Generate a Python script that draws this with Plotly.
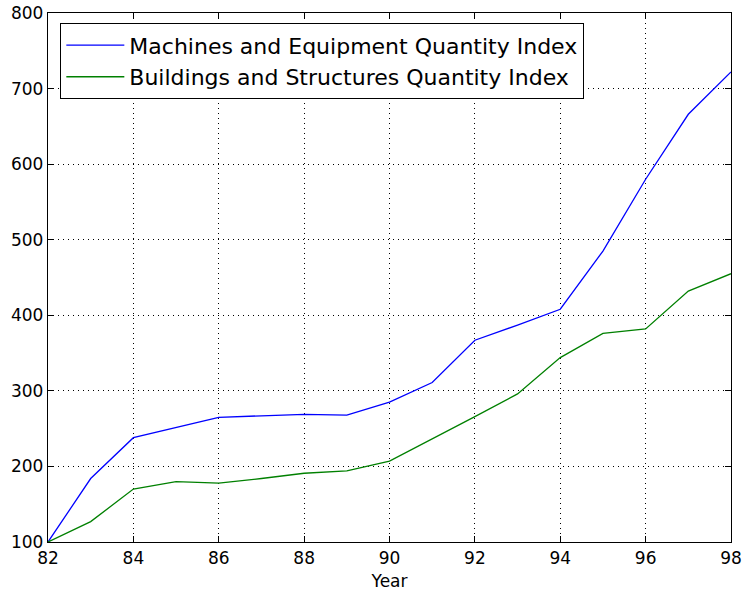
import plotly.graph_objects as go

years = [82, 83, 84, 85, 86, 87, 88, 89, 90, 91, 92, 93, 94, 95, 96, 97, 98]
machines = [100, 184, 238, 251, 265, 267, 269, 268, 285, 311, 367, 387, 408, 485, 580, 666, 722]
buildings = [100, 127, 170, 180, 178, 184, 191, 194, 207, 236, 266, 296, 344, 376, 382, 432, 455]
x_ticks = [82, 84, 86, 88, 90, 92, 94, 96, 98]
y_ticks = [100, 200, 300, 400, 500, 600, 700, 800]

fig = go.Figure()
fig.add_trace(go.Scatter(x=years, y=machines, mode="lines",
                         name="Machines and Equipment Quantity Index",
                         line=dict(color="#0000ff", width=1.3)))
fig.add_trace(go.Scatter(x=years, y=buildings, mode="lines",
                         name="Buildings and Structures Quantity Index",
                         line=dict(color="#008000", width=1.3)))

axis_common = dict(showline=True, linecolor="black", linewidth=1.3, mirror="allticks",
                   ticks="inside", ticklen=6, tickcolor="black", automargin=False,
                   showgrid=True, gridcolor="black", griddash="1px,4px", gridwidth=1,
                   zeroline=False, tickfont=dict(family="DejaVu Sans", size=17, color="black"))

fig.update_xaxes(range=[82, 98], tickvals=x_ticks, ticktext=[str(v) for v in x_ticks],
                 title=dict(text="Year", font=dict(family="DejaVu Sans", size=17, color="black"), standoff=8),
                 **axis_common)
fig.update_yaxes(range=[100, 800], tickvals=y_ticks, ticktext=[str(v) for v in y_ticks],
                 ticklabelstandoff=0, **axis_common)

fig.update_layout(
    width=743, height=592,
    margin=dict(l=48, r=12, t=13, b=50),
    plot_bgcolor="white", paper_bgcolor="white",
    font=dict(family="DejaVu Sans", size=17, color="black"),
    legend=dict(x=0.0176, y=0.981, xanchor="left", yanchor="top",
                bgcolor="white", bordercolor="black", borderwidth=1.3,
                font=dict(family="DejaVu Sans", size=22, color="black"),
                itemwidth=58, tracegroupgap=0),
    showlegend=True,
)

fig.write_html("out.html", config={"displayModeBar": False},
               post_script="document.body.style.margin='0px';")
